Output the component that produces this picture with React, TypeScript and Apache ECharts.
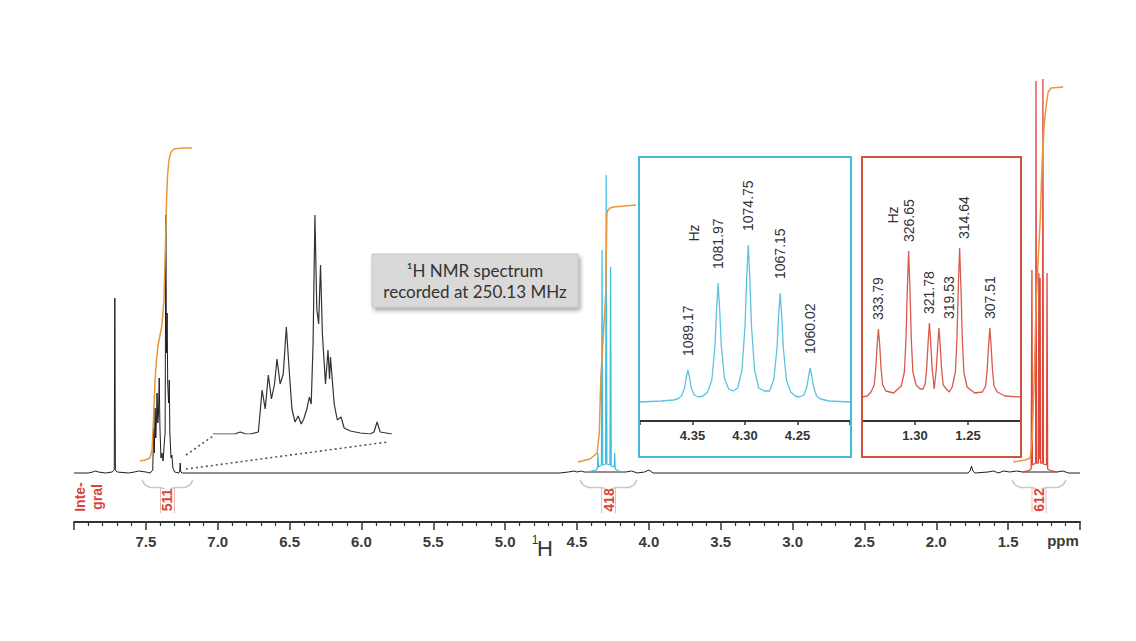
import React, { useEffect, useRef } from "react";
import * as echarts from "echarts";

const SPECTROMETER_MHZ = 250.13;

// Main spectrum (ppm, intensity)
const blackTrace: number[][] = [
  [8.0, 0], [7.9, 0], [7.87, 1], [7.85, 2], [7.83, 1], [7.78, 0], [7.735, 1], [7.72, 3], [7.716, 175], [7.712, 3], [7.7, 1],
  [7.62, 0], [7.58, 1], [7.55, 2], [7.5, 1], [7.47, 0],
  [7.452, 3], [7.446, 45], [7.441, 20], [7.436, 65], [7.431, 35], [7.426, 55], [7.422, 80], [7.417, 50], [7.412, 60],
  [7.407, 95], [7.402, 45], [7.395, 15], [7.388, 20], [7.38, 12], [7.372, 30], [7.366, 40], [7.361, 258], [7.357, 120],
  [7.352, 160], [7.348, 90], [7.342, 70], [7.337, 93], [7.333, 40], [7.325, 15], [7.319, 18], [7.312, 5], [7.3, 1],
  [7.27, 0], [7.264, 3], [7.261, 10], [7.258, 2], [7.25, 0],
  [6.0, 0], [4.62, 0], [4.56, 1], [4.52, 2], [4.5, 1], [4.47, 2], [4.45, 1],
  [4.16, 1], [4.12, 2], [4.08, 0], [4.03, 1], [4.0, 3], [3.97, 0], [2.0, 0],
  [1.78, 0], [1.765, 2], [1.755, 7], [1.745, 2], [1.73, 0], [1.64, 1], [1.6, 2], [1.57, 0], [1.53, 2], [1.49, 1], [1.44, 2], [1.4, 1],
  [1.16, 1], [1.12, 2], [1.08, 0], [1.0, 0],
];

const quartetTrace: number[][] = [
  [4.45, 1], [4.4, 2], [4.365, 3], [4.358, 5], [4.3544, 20], [4.351, 6], [4.33, 8], [4.3256, 223], [4.321, 8],
  [4.301, 9], [4.2969, 298], [4.292, 9], [4.271, 8], [4.2665, 206], [4.262, 7], [4.241, 6], [4.2379, 20], [4.234, 4],
  [4.21, 2], [4.16, 1],
];

const tripletTrace: number[][] = [
  [1.4, 1], [1.36, 2], [1.34, 4], [1.3345, 203], [1.331, 8], [1.309, 10], [1.306, 392], [1.3025, 10], [1.29, 10],
  [1.2864, 200], [1.2819, 14], [1.2774, 195], [1.2745, 10], [1.261, 10], [1.2579, 394], [1.2545, 9], [1.233, 8],
  [1.2294, 200], [1.225, 4], [1.2, 2], [1.16, 1],
];

// Integral curves (ppm, height)
const aromaticIntegral: number[][] = [
  [7.541, 12], [7.506, 13], [7.471, 15], [7.457, 23], [7.447, 53], [7.436, 93], [7.426, 113], [7.415, 128], [7.401, 138],
  [7.388, 148], [7.374, 173], [7.363, 233], [7.356, 273], [7.349, 298], [7.339, 313], [7.325, 321], [7.304, 324],
  [7.248, 325], [7.179, 325],
];
const quartetIntegral: number[][] = [
  [4.493, 11], [4.409, 14], [4.36, 20], [4.345, 40], [4.334, 96], [4.32, 130], [4.3, 180], [4.292, 260], [4.284, 263],
  [4.27, 265], [4.249, 266], [4.166, 267], [4.089, 268],
];
const tripletIntegral: number[][] = [
  [1.465, 11], [1.382, 13], [1.347, 15], [1.333, 33], [1.319, 93], [1.305, 173], [1.291, 213], [1.277, 253], [1.263, 313],
  [1.249, 348], [1.235, 368], [1.221, 381], [1.2, 385], [1.117, 386],
];

// Integral values and ranges (ppm)
const integralLabels = ["511", "418", "612"];
const integralFrom = [7.527, 4.479, 1.473];
const integralTo = [7.172, 4.082, 1.097];

// Aromatic expansion (ppm, intensity)
const aromaticZoomTrace: number[][] = [
  [7.525, 0], [7.49, 0], [7.481, 2], [7.472, 0], [7.465, 0], [7.452, 2], [7.446, 44], [7.441, 25], [7.436, 59], [7.431, 35],
  [7.426, 50], [7.422, 75], [7.417, 50], [7.412, 60], [7.407, 107], [7.402, 60], [7.398, 25], [7.393, 12], [7.388, 18],
  [7.383, 10], [7.379, 15], [7.374, 25], [7.37, 37], [7.367, 30], [7.364, 90], [7.361, 219], [7.358, 125], [7.355, 110],
  [7.352, 169], [7.349, 100], [7.344, 50], [7.34, 84], [7.3375, 55], [7.336, 77], [7.33, 30], [7.325, 14], [7.319, 17],
  [7.314, 6], [7.304, 3], [7.288, 1], [7.272, 0], [7.266, 2], [7.261, 12], [7.256, 2], [7.237, 0],
];

// Quartet expansion (ppm, intensity)
const quartetZoomTrace: number[][] = [
  [4.4, 1], [4.38, 2], [4.368, 3], [4.3644, 4], [4.3604, 7], [4.3574, 16], [4.3559, 26], [4.3544, 33], [4.3529, 26],
  [4.3514, 16], [4.3484, 8], [4.3444, 6], [4.34, 7], [4.3356, 11], [4.3316, 23], [4.3286, 57], [4.3271, 93], [4.3256, 120],
  [4.3241, 93], [4.3226, 58], [4.3196, 25], [4.3156, 14], [4.3112, 12], [4.3069, 15], [4.3029, 33], [4.2999, 78],
  [4.2984, 125], [4.2969, 158], [4.2954, 125], [4.2939, 78], [4.2909, 33], [4.2869, 15], [4.2817, 12], [4.2765, 12],
  [4.2725, 24], [4.2695, 55], [4.268, 87], [4.2665, 110], [4.265, 87], [4.2635, 55], [4.2605, 23], [4.2565, 11],
  [4.2522, 7], [4.2479, 6], [4.2439, 8], [4.2409, 17], [4.2394, 27], [4.2379, 35], [4.2364, 27], [4.2349, 17],
  [4.2319, 7], [4.2279, 4], [4.22, 2], [4.2, 1],
];

// Triplet-of-doublets expansion (ppm, intensity)
const tripletZoomTrace: number[][] = [
  [1.35, 2], [1.345, 3], [1.3415, 7], [1.3385, 14], [1.337, 30], [1.3357, 54], [1.3345, 70], [1.3333, 54], [1.332, 30],
  [1.3305, 14], [1.3275, 8], [1.3202, 6], [1.313, 13], [1.31, 27], [1.3085, 60], [1.3072, 111], [1.306, 148],
  [1.3048, 111], [1.3035, 60], [1.302, 27], [1.299, 14], [1.295, 10], [1.2924, 10], [1.2904, 15], [1.2889, 32],
  [1.2876, 57], [1.2864, 76], [1.2852, 57], [1.2839, 32], [1.2819, 10], [1.2799, 30], [1.2786, 53], [1.2774, 71],
  [1.2762, 53], [1.2749, 30], [1.2734, 14], [1.2704, 10], [1.2676, 7], [1.2649, 12], [1.2619, 27], [1.2604, 61],
  [1.2591, 113], [1.2579, 151], [1.2567, 113], [1.2554, 61], [1.2539, 27], [1.2509, 12], [1.2437, 6], [1.2364, 7],
  [1.2334, 13], [1.2319, 29], [1.2306, 53], [1.2294, 71], [1.2282, 53], [1.2269, 29], [1.2254, 13], [1.2224, 7],
  [1.215, 3], [1.2, 2],
];

// Peak annotations (Hz) with peak intensities in the expansions
const quartetHz = [1089.17, 1081.97, 1074.75, 1067.15, 1060.02];
const quartetPeakH = [33, 120, 158, 110, 35];
const tripletHz = [333.79, 326.65, 321.78, 319.53, 314.64, 307.51];
const tripletPeakH = [70, 148, 76, 71, 151, 71];

const BLACK = "#1e1e1e";
const CYAN = "#3dbde0";
const RED = "#e0473a";
const ORANGE = "#e8973a";
const LABEL_RED = "#d9453b";
const FONT = '"Liberation Sans", Arial, sans-serif';

function lineSeries(data: number[][], idx: number, color: string, width: number, z: number) {
  return {
    type: "line",
    xAxisIndex: idx,
    yAxisIndex: idx,
    data,
    showSymbol: false,
    symbol: "none",
    silent: true,
    z,
    lineStyle: { color, width },
  };
}

function buildOption() {
  const insetAxis = (min: number, max: number, lo: number, hi: number, grid: number) => ({
    type: "value",
    gridIndex: grid,
    min,
    max,
    inverse: true,
    interval: 0.05,
    axisLine: { show: true, onZero: false, lineStyle: { color: "#333", width: 2 } },
    axisTick: { show: true, length: 4, lineStyle: { color: "#333", width: 1.5 } },
    axisLabel: {
      margin: 8,
      fontSize: 13,
      fontWeight: "bold",
      color: "#333",
      fontFamily: FONT,
      formatter: (v: number) => (v > lo && v < hi ? v.toFixed(2) : ""),
    },
    splitLine: { show: false },
  });
  return {
    animation: false,
    backgroundColor: "#ffffff",
    grid: [
      { left: 74, right: 56, top: 60, bottom: 119 },
      { left: 213, width: 179, top: 200, bottom: 207 },
      { left: 640, width: 210, top: 157, bottom: 220 },
      { left: 862, width: 159, top: 157, bottom: 220 },
    ],
    xAxis: [
      {
        type: "value",
        gridIndex: 0,
        min: 1,
        max: 8,
        inverse: true,
        interval: 0.5,
        axisLine: { show: true, onZero: false, lineStyle: { color: "#333", width: 2 } },
        axisTick: { show: true, length: 8, lineStyle: { color: "#333", width: 1.5 } },
        minorTick: { show: true, splitNumber: 5, length: 4, lineStyle: { color: "#333", width: 1.2 } },
        axisLabel: {
          margin: 12,
          fontSize: 15,
          fontWeight: "bold",
          color: "#3a3a3a",
          fontFamily: FONT,
          formatter: (v: number) => (v > 1.4 && v < 7.6 ? v.toFixed(1) : ""),
        },
        splitLine: { show: false },
      },
      { type: "value", gridIndex: 1, min: 7.237, max: 7.525, inverse: true, show: false },
      insetAxis(4.2, 4.4, 4.21, 4.39, 2),
      insetAxis(1.2, 1.35, 1.21, 1.34, 3),
    ],
    yAxis: [
      { type: "value", gridIndex: 0, min: -49, max: 413, show: false },
      { type: "value", gridIndex: 1, min: 0, max: 234, show: false },
      { type: "value", gridIndex: 2, min: -18, max: 246, show: false },
      { type: "value", gridIndex: 3, min: -22, max: 242, show: false },
    ],
    series: [
      lineSeries(blackTrace, 0, BLACK, 1, 2),
      lineSeries(quartetTrace, 0, CYAN, 1.2, 3),
      lineSeries(tripletTrace, 0, RED, 1.3, 3),
      lineSeries(aromaticIntegral, 0, ORANGE, 1.5, 4),
      lineSeries(quartetIntegral, 0, ORANGE, 1.5, 4),
      lineSeries(tripletIntegral, 0, ORANGE, 1.5, 4),
      lineSeries(aromaticZoomTrace, 1, "#333", 1.2, 3),
      lineSeries(quartetZoomTrace, 2, "#5cc3df", 1.3, 3),
      lineSeries(tripletZoomTrace, 3, "#d9594c", 1.3, 3),
    ],
  };
}

function rotText(x: number, y: number, text: string, font: string, fill: string, align: string) {
  return {
    type: "text",
    x,
    y,
    rotation: Math.PI / 2,
    z: 20,
    silent: true,
    style: {
      x: 0,
      y: 0,
      text,
      font,
      fill,
      align,
      verticalAlign: "middle",
      textAlign: align,
      textVerticalAlign: "middle",
    },
  };
}

function plainText(x: number, y: number, text: string, font: string, fill: string) {
  return {
    type: "text",
    x,
    y,
    z: 20,
    silent: true,
    style: {
      x: 0,
      y: 0,
      text,
      font,
      fill,
      align: "center",
      verticalAlign: "middle",
      textAlign: "center",
      textVerticalAlign: "middle",
    },
  };
}

function buildGraphics(chart: any) {
  const g: any[] = [];
  // Info box
  g.push({
    type: "group",
    x: 372,
    y: 254,
    z: 15,
    children: [
      {
        type: "rect",
        shape: { x: 0, y: 0, width: 206, height: 53 },
        style: {
          fill: "#d9d9d9",
          stroke: "#c4c4c4",
          lineWidth: 1,
          shadowBlur: 4,
          shadowOffsetX: 2,
          shadowOffsetY: 3,
          shadowColor: "rgba(0,0,0,0.35)",
        },
      },
      plainText(103, 16, "¹H NMR spectrum", '17px Lato, "Open Sans", sans-serif', "#333"),
      plainText(103, 37, "recorded at 250.13 MHz", '17px Lato, "Open Sans", sans-serif', "#333"),
    ],
  });
  // Inset boxes
  g.push({
    type: "rect",
    z: 10,
    shape: { x: 639, y: 157, width: 212, height: 300 },
    style: { fill: "none", stroke: "#45b9da", lineWidth: 2 },
  });
  g.push({
    type: "rect",
    z: 10,
    shape: { x: 862, y: 157, width: 159, height: 300 },
    style: { fill: "none", stroke: "#d4503f", lineWidth: 2 },
  });
  // Hz labels
  const hzFont = `14px ${FONT}`;
  quartetHz.forEach((hz, i) => {
    const p = chart.convertToPixel({ xAxisIndex: 2, yAxisIndex: 2 }, [hz / SPECTROMETER_MHZ, quartetPeakH[i]]);
    g.push(rotText(p[0], p[1] - 14, hz.toFixed(2), hzFont, "#333", "left"));
  });
  tripletHz.forEach((hz, i) => {
    const p = chart.convertToPixel({ xAxisIndex: 3, yAxisIndex: 3 }, [hz / SPECTROMETER_MHZ, tripletPeakH[i]]);
    const shift = hz === 319.53 ? 10 : hz === 314.64 ? 4 : 0;
    g.push(rotText(p[0] + shift, p[1] - 9, hz.toFixed(2), hzFont, "#333", "left"));
  });
  const q0 = chart.convertToPixel({ xAxisIndex: 2, yAxisIndex: 2 }, [quartetHz[0] / SPECTROMETER_MHZ, 0]);
  g.push(rotText(q0[0] + 6, 233, "Hz", hzFont, "#333", "center"));
  const t0 = chart.convertToPixel({ xAxisIndex: 3, yAxisIndex: 3 }, [tripletHz[0] / SPECTROMETER_MHZ, 0]);
  g.push(rotText(t0[0] + 15, 215, "Hz", hzFont, "#333", "center"));

  // Integral brackets and values
  integralLabels.forEach((lab, i) => {
    const x1 = chart.convertToPixel({ xAxisIndex: 0 }, integralFrom[i]);
    const x2 = chart.convertToPixel({ xAxisIndex: 0 }, integralTo[i]);
    const cx = (x1 + x2) / 2;
    g.push({
      type: "polyline",
      z: 12,
      shape: {
        points: [
          [x1, 480], [x1 + 3, 485], [x1 + 8, 487.5], [cx - 7, 487.5], [cx - 3, 489], [cx, 492],
          [cx + 3, 489], [cx + 7, 487.5], [x2 - 8, 487.5], [x2 - 3, 485], [x2, 480],
        ],
      },
      style: { stroke: "#c8c8c8", lineWidth: 1.5, fill: "none" },
    });
    g.push({ type: "line", z: 12, shape: { x1: cx - 7, y1: 488, x2: cx - 7, y2: 513 }, style: { stroke: "#f2b8b0", lineWidth: 1 } });
    g.push({ type: "line", z: 12, shape: { x1: cx + 7, y1: 488, x2: cx + 7, y2: 513 }, style: { stroke: "#f2b8b0", lineWidth: 1 } });
    g.push({ type: "rect", z: 13, shape: { x: cx - 6, y: 489, width: 12, height: 23 }, style: { fill: "#ffffff" } });
    g.push(rotText(cx, 500, lab, `bold 14px ${FONT}`, LABEL_RED, "center"));
  });
  g.push(rotText(80, 497, "Inte-", `bold 14px ${FONT}`, LABEL_RED, "center"));
  g.push(rotText(97, 497, "gral", `bold 14px ${FONT}`, LABEL_RED, "center"));

  // Nucleus label and unit
  g.push(plainText(535, 540, "1", `12px ${FONT}`, "#333"));
  g.push(plainText(545, 548, "H", `22px ${FONT}`, "#333"));
  g.push(plainText(1063, 540, "ppm", `bold 15px ${FONT}`, "#3a3a3a"));

  // Dotted connector lines to the aromatic expansion
  const dot = { stroke: "#555", lineWidth: 1.6, lineDash: [2, 3] };
  g.push({ type: "line", z: 12, shape: { x1: 186, y1: 455, x2: 213, y2: 436 }, style: dot });
  g.push({ type: "line", z: 12, shape: { x1: 186, y1: 469, x2: 388, y2: 442 }, style: dot });
  return g;
}

export default function App() {
  const ref = useRef<HTMLDivElement>(null);
  useEffect(() => {
    document.body.style.margin = "0";
    const chart = echarts.init(ref.current as HTMLDivElement, null, { renderer: "svg" });
    chart.setOption(buildOption() as any);
    chart.setOption({ graphic: buildGraphics(chart) } as any);
    return () => chart.dispose();
  }, []);
  return <div ref={ref} style={{ width: 1136, height: 641 }} />;
}
